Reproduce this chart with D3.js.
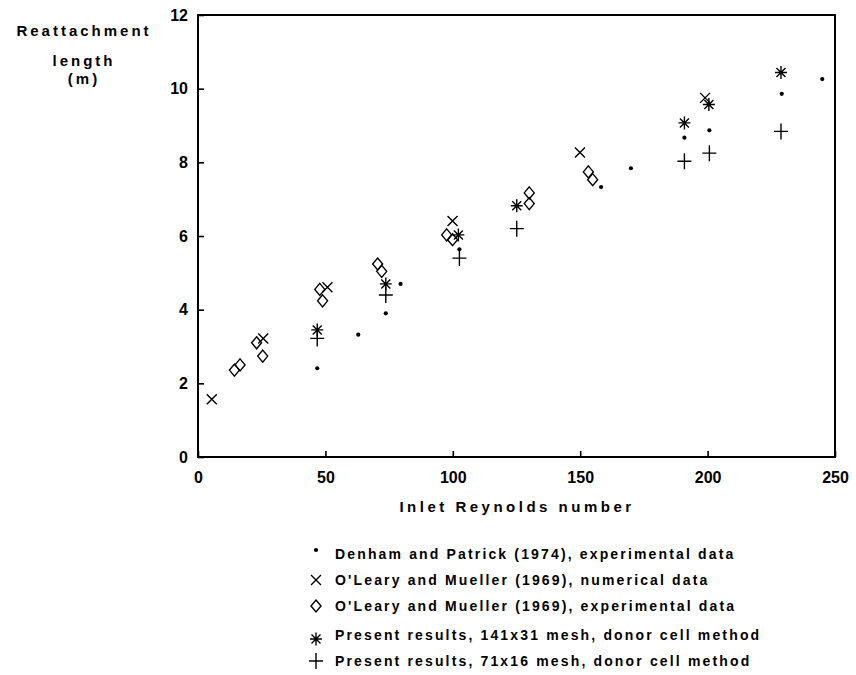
<!DOCTYPE html>
<html>
<head>
<meta charset="utf-8">
<script src="https://cdn.jsdelivr.net/npm/d3@7"></script>
<style>
  body { margin: 0; background: #fff; }
  svg { display: block; }
  text { font-family: "Liberation Sans", Arial, sans-serif; font-weight: bold; fill: #000; }
</style>
</head>
<body>
<svg id="chart" width="856" height="675"></svg>
<script>
// ---- data ----
const xTicks = [0, 50, 100, 150, 200, 250];
const yTicks = [0, 2, 4, 6, 8, 10, 12];

const denhamX = [46.8, 62.9, 73.7, 79.5, 102.6, 158.2, 169.9, 190.9, 200.7, 229.1, 245];
const denhamY = [2.41, 3.32, 3.9, 4.7, 5.64, 7.33, 7.84, 8.67, 8.87, 9.86, 10.26];

const olearyNumX = [5.4, 25.6, 50.8, 99.9, 149.9, 199];
const olearyNumY = [1.57, 3.22, 4.61, 6.41, 8.27, 9.75];

const olearyExpX = [14.3, 16.5, 23.0, 25.4, 47.8, 48.9, 70.5, 72.1, 97.6, 99.9, 130, 130, 153.2, 154.9];
const olearyExpY = [2.36, 2.5, 3.1, 2.74, 4.55, 4.24, 5.24, 5.04, 6.03, 5.9, 7.17, 6.88, 7.74, 7.53];

const present141X = [46.8, 73.7, 102.2, 125.1, 190.9, 200.5, 228.8];
const present141Y = [3.45, 4.7, 6.03, 6.82, 9.07, 9.57, 10.44];

const present71X = [46.8, 73.7, 102.6, 125.1, 190.9, 200.7, 228.8];
const present71Y = [3.22, 4.4, 5.4, 6.2, 8.03, 8.25, 8.84];

const legendLabels = [
  "Denham and Patrick (1974), experimental data",
  "O'Leary and Mueller (1969), numerical data",
  "O'Leary and Mueller (1969), experimental data",
  "Present results, 141x31 mesh, donor cell method",
  "Present results, 71x16 mesh, donor cell method"
];
const legendSymbols = ["dot", "cross", "diamond", "star", "plus"];

// ---- layout ----
const svg = d3.select("#chart");
const x = d3.scaleLinear().domain([0, 250]).range([198, 835]);
const y = d3.scaleLinear().domain([0, 12]).range([457, 15]);

// frame
svg.append("rect")
  .attr("x", x(0)).attr("y", y(12))
  .attr("width", x(250) - x(0)).attr("height", y(0) - y(12))
  .attr("fill", "none").attr("stroke", "#000").attr("stroke-width", 2);

const xAxis = svg.append("g").attr("transform", `translate(0,${y(0)})`)
  .call(d3.axisBottom(x).tickValues(xTicks).tickSize(-6).tickPadding(15).tickFormat(d3.format("d")));
const yAxis = svg.append("g").attr("transform", `translate(${x(0)},0)`)
  .call(d3.axisLeft(y).tickValues(yTicks).tickSize(-6).tickPadding(10).tickFormat(d3.format("d")));
[xAxis, yAxis].forEach(g => {
  g.select(".domain").remove();
  g.selectAll(".tick line").attr("stroke", "#000").attr("stroke-width", 1.6);
  g.selectAll(".tick text").style("font-size", "16px").style("font-family", "'Liberation Sans', Arial, sans-serif").style("font-weight", "bold");
});

// axis titles
svg.append("text").attr("x", 517).attr("y", 512).attr("text-anchor", "middle")
  .style("font-size", "15px").style("letter-spacing", "3.5px").text("Inlet Reynolds number");
const yt = [["Reattachment", 36], ["length", 66], ["(m)", 84]];
yt.forEach(([t, yy]) => {
  svg.append("text").attr("x", 84).attr("y", yy).attr("text-anchor", "middle")
    .style("font-size", "15px").style("letter-spacing", "3px").text(t);
});

// ---- symbols ----
function drawSymbol(g, type, cx, cy) {
  const s = g.append("g").attr("transform", `translate(${cx},${cy})`);
  const st = l => l.attr("stroke", "#000").attr("stroke-width", 1.4).attr("fill", "none");
  if (type === "dot") {
    s.append("circle").attr("r", 2.1).attr("fill", "#000");
  } else if (type === "cross") {
    st(s.append("path").attr("d", "M-5,-5L5,5M-5,5L5,-5"));
  } else if (type === "diamond") {
    st(s.append("path").attr("d", "M0,-6L5,0L0,6L-5,0Z"));
  } else if (type === "star") {
    st(s.append("path").attr("d", "M-6,0L6,0M0,-6.5L0,6.5M-4.5,-4.5L4.5,4.5M-4.5,4.5L4.5,-4.5").attr("stroke-width", 1.8));
  } else if (type === "plus") {
    st(s.append("path").attr("d", "M-7,0L7,0M0,-8L0,8"));
  }
}

const plot = svg.append("g");
const series = [
  ["diamond", olearyExpX, olearyExpY],
  ["cross", olearyNumX, olearyNumY],
  ["plus", present71X, present71Y],
  ["star", present141X, present141Y],
  ["dot", denhamX, denhamY]
];
series.forEach(([type, xs, ys]) => {
  xs.forEach((v, i) => drawSymbol(plot, type, x(v), y(ys[i])));
});

// ---- legend ----
const legY = [554, 580, 606, 635, 661];
const leg = svg.append("g");
legendLabels.forEach((t, i) => {
  drawSymbol(leg, legendSymbols[i], 316, legY[i] + (legendSymbols[i] === "star" ? 4 : 0) - (legendSymbols[i] === "dot" ? 4 : 0));
  leg.append("text").attr("x", 335).attr("y", legY[i] + 5)
    .style("font-size", "14px").style("letter-spacing", "2.15px").text(t);
});
</script>
</body>
</html>
